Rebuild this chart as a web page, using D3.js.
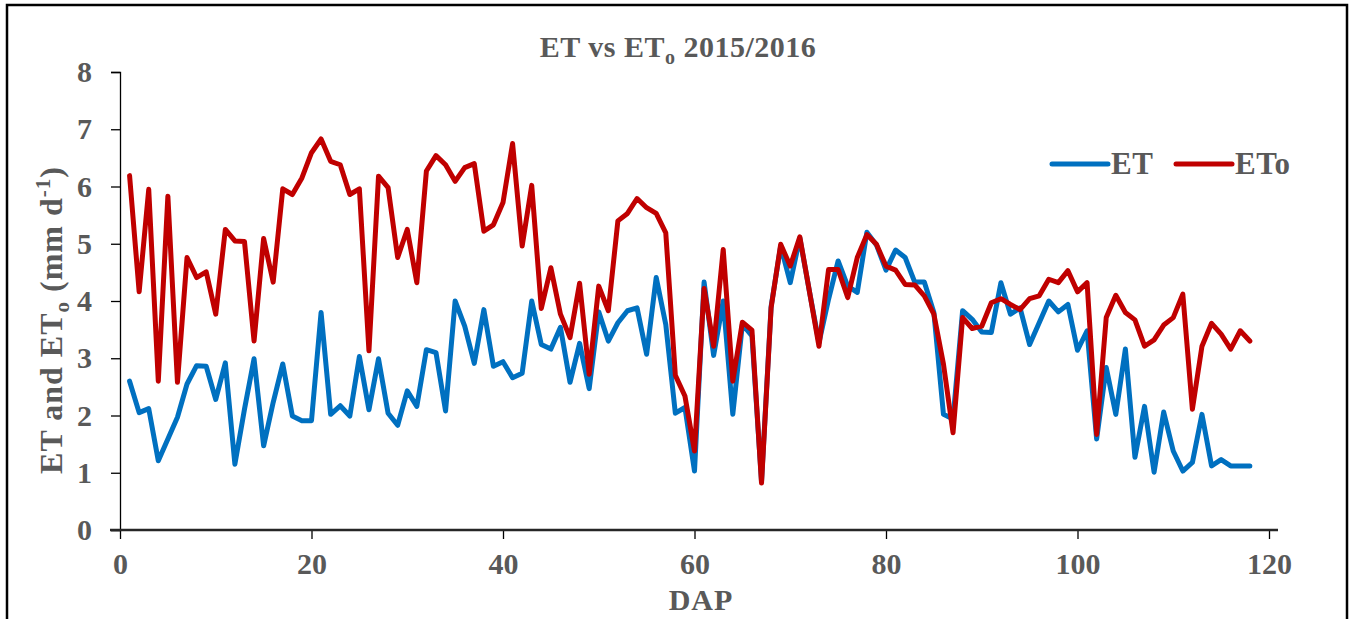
<!DOCTYPE html>
<html>
<head>
<meta charset="utf-8">
<script src="https://cdn.jsdelivr.net/npm/d3@7.9.0/dist/d3.min.js"></script>
<style>
  body { margin: 0; background: #fff; }
  text { font-family: "Liberation Serif", "Times New Roman", serif; font-weight: bold; fill: #595959; }
</style>
</head>
<body>
<svg id="chart" width="1354" height="619"></svg>
<script>
// days after planting
const dap = d3.range(1, 119);

// ET (blue)
const etValues = [
  2.60, 2.05, 2.12, 1.21, 1.59, 1.97, 2.55, 2.87, 2.86, 2.28,
  2.92, 1.15, 2.11, 2.99, 1.47, 2.23, 2.90, 1.99, 1.91, 1.91,
  3.80, 2.02, 2.17, 1.99, 3.03, 2.10, 2.99, 2.04, 1.83, 2.43,
  2.16, 3.15, 3.10, 2.08, 4.00, 3.56, 2.91, 3.85, 2.86, 2.94,
  2.66, 2.74, 4.00, 3.24, 3.16, 3.54, 2.58, 3.26, 2.47, 3.81,
  3.30, 3.62, 3.83, 3.88, 3.07, 4.41, 3.59, 2.04, 2.14, 1.03,
  4.33, 3.05, 4.00, 2.02, 3.59, 3.39, 0.85, 3.90, 4.96, 4.32,
  5.10, 4.17, 3.27, 4.03, 4.70, 4.26, 4.15, 5.20, 4.98, 4.54,
  4.89, 4.76, 4.33, 4.33, 3.80, 2.02, 1.94, 3.83, 3.68, 3.46,
  3.45, 4.32, 3.77, 3.88, 3.24, 3.62, 4.00, 3.81, 3.94, 3.14,
  3.48, 1.59, 2.84, 2.02, 3.16, 1.27, 2.16, 1.01, 2.06, 1.38,
  1.03, 1.18, 2.02, 1.12, 1.23, 1.12, 1.12, 1.12
];

// ETo (red)
const etoValues = [
  6.19, 4.16, 5.95, 2.60, 5.83, 2.58, 4.76, 4.41, 4.51, 3.77,
  5.25, 5.05, 5.04, 3.30, 5.09, 4.33, 5.96, 5.86, 6.15, 6.59,
  6.83, 6.44, 6.38, 5.86, 5.96, 3.13, 6.18, 5.98, 4.76, 5.25,
  4.32, 6.27, 6.54, 6.38, 6.09, 6.33, 6.40, 5.22, 5.33, 5.72,
  6.75, 4.96, 6.02, 3.87, 4.58, 3.77, 3.36, 4.31, 2.72, 4.26,
  3.83, 5.40, 5.53, 5.79, 5.63, 5.53, 5.19, 2.70, 2.34, 1.38,
  4.22, 3.21, 4.90, 2.60, 3.63, 3.49, 0.82, 3.88, 4.99, 4.61,
  5.12, 4.17, 3.21, 4.55, 4.55, 4.06, 4.76, 5.16, 4.99, 4.61,
  4.54, 4.29, 4.28, 4.09, 3.77, 2.90, 1.70, 3.71, 3.52, 3.56,
  3.97, 4.04, 3.94, 3.85, 4.04, 4.09, 4.38, 4.32, 4.53, 4.16,
  4.32, 1.67, 3.71, 4.10, 3.80, 3.67, 3.21, 3.32, 3.58, 3.71,
  4.12, 2.11, 3.21, 3.61, 3.42, 3.16, 3.48, 3.30
];

const xTicks = [0, 20, 40, 60, 80, 100, 120];
const yTicks = [0, 1, 2, 3, 4, 5, 6, 7, 8];

const svg = d3.select("#chart");

// outer frame
svg.append("rect")
  .attr("x", 7).attr("y", 5)
  .attr("width", 1340).attr("height", 630)
  .attr("fill", "none").attr("stroke", "#000").attr("stroke-width", 2.5);

const x = d3.scaleLinear().domain([0, 120]).range([120, 1269]);
const y = d3.scaleLinear().domain([0, 8]).range([530, 72]);

// y axis
const yAxis = svg.append("g")
  .attr("transform", "translate(120,0)")
  .call(d3.axisLeft(y).tickValues(yTicks).tickSize(9).tickPadding(19).tickFormat(d3.format("d")));
yAxis.select(".domain").attr("stroke", "#000").attr("stroke-width", 1.3);
yAxis.selectAll(".tick line").attr("stroke", "#000").attr("stroke-width", 1.3);
yAxis.selectAll(".tick text").style("font-size", "30px").attr("fill", "#595959");

// x axis
const xAxis = svg.append("g")
  .attr("transform", "translate(0,530)")
  .call(d3.axisBottom(x).tickValues(xTicks).tickSize(9).tickPadding(14));
xAxis.select(".domain").remove();
xAxis.selectAll(".tick line").attr("stroke", "#000").attr("stroke-width", 1.3);
xAxis.selectAll(".tick text").style("font-size", "30px").attr("fill", "#595959");
xAxis.append("line")
  .attr("x1", 110).attr("x2", 1278)
  .attr("stroke", "#262626").attr("stroke-width", 2.5);

// lines
const line = d3.line()
  .x((d, i) => x(dap[i]))
  .y(d => y(d));

svg.append("path")
  .datum(etValues)
  .attr("d", line)
  .attr("fill", "none")
  .attr("stroke", "#0070C0")
  .attr("stroke-width", 5)
  .attr("stroke-linejoin", "round")
  .attr("stroke-linecap", "round");

svg.append("path")
  .datum(etoValues)
  .attr("d", line)
  .attr("fill", "none")
  .attr("stroke", "#C00000")
  .attr("stroke-width", 5)
  .attr("stroke-linejoin", "round")
  .attr("stroke-linecap", "round");

// title
const title = svg.append("text")
  .attr("x", 678).attr("y", 57)
  .attr("text-anchor", "middle")
  .style("font-size", "30px")
  .style("letter-spacing", "0.5px");
title.append("tspan").text("ET vs ET");
title.append("tspan").text("o").attr("dy", 7).style("font-size", "20px");
title.append("tspan").text(" 2015/2016").attr("dy", -7);

// axis titles
svg.append("text")
  .attr("x", 701).attr("y", 610)
  .attr("text-anchor", "middle")
  .style("font-size", "30px")
  .style("letter-spacing", "1px")
  .text("DAP");

const yTitle = svg.append("text")
  .attr("transform", "translate(62,320) rotate(-90)")
  .attr("text-anchor", "middle")
  .style("font-size", "32px")
  .style("letter-spacing", "1px");
yTitle.append("tspan").text("ET and ET");
yTitle.append("tspan").text("o").attr("dy", 7).style("font-size", "21px");
yTitle.append("tspan").text(" (mm d").attr("dy", -7);
yTitle.append("tspan").text("-1").attr("dy", -12).style("font-size", "21px");
yTitle.append("tspan").text(")").attr("dy", 12);

// legend
const legendItems = [
  { label: "ET", color: "#0070C0", x: 1052 },
  { label: "ETo", color: "#C00000", x: 1176 }
];
const legend = svg.append("g");
legendItems.forEach(d => {
  legend.append("line")
    .attr("x1", d.x).attr("x2", d.x + 56)
    .attr("y1", 164).attr("y2", 164)
    .attr("stroke", d.color).attr("stroke-width", 5)
    .attr("stroke-linecap", "round");
  legend.append("text")
    .attr("x", d.x + 59).attr("y", 174)
    .style("font-size", "31px")
    .style("letter-spacing", "0.5px")
    .text(d.label);
});
</script>
</body>
</html>
